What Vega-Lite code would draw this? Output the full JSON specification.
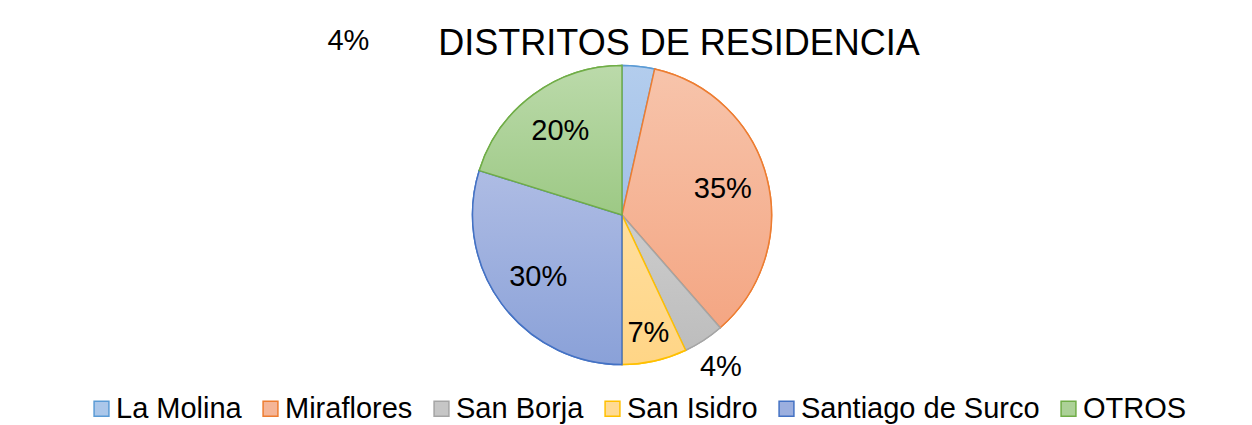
{
  "$schema": "https://vega.github.io/schema/vega-lite/v6.json",
  "width": 1244,
  "height": 300,
  "autosize": "none",
  "padding": {"left": 0, "top": 65, "right": 8, "bottom": 60},
  "background": "white",
  "title": {
    "text": "DISTRITOS DE RESIDENCIA",
    "anchor": "middle",
    "dx": 57,
    "offset": -42,
    "font": "Liberation Sans",
    "fontSize": 36,
    "fontWeight": "normal",
    "color": "#000000"
  },
  "data": {
    "values": [
      {"i": 1, "d": "La Molina", "pct": 3.5, "label": "4%"},
      {"i": 2, "d": "Miraflores", "pct": 35.1, "label": "35%"},
      {"i": 3, "d": "San Borja", "pct": 4.4, "label": "4%"},
      {"i": 4, "d": "San Isidro", "pct": 7.0, "label": "7%"},
      {"i": 5, "d": "Santiago de Surco", "pct": 29.8, "label": "30%"},
      {"i": 6, "d": "OTROS", "pct": 20.2, "label": "20%"}
    ]
  },
  "encoding": {
    "theta": {"field": "pct", "type": "quantitative", "stack": true},
    "order": {"field": "i", "type": "quantitative"}
  },
  "layer": [
    {
      "mark": {"type": "arc", "outerRadius": 149.5, "strokeWidth": 1.5},
      "encoding": {
        "fill": {
          "field": "d",
          "type": "nominal",
          "scale": {
            "domain": ["La Molina", "Miraflores", "San Borja", "San Isidro", "Santiago de Surco", "OTROS"],
            "range": ["#ABC7EA", "#F5B597", "#C6C6C6", "#FFDA93", "#9CAFDF", "#ACD197"]
          },
          "legend": {
            "orient": "none", "legendX": 87, "legendY": 329, "direction": "horizontal", "title": null,
            "symbolType": "square", "symbolSize": 220, "symbolStrokeWidth": 1.5,
            "labelFont": "Liberation Sans", "labelFontSize": 29, "labelColor": "#000000",
            "labelOffset": 0, "columnPadding": 14, "labelLimit": 0, "padding": 0
          }
        },
        "stroke": {
          "field": "d",
          "type": "nominal",
          "scale": {
            "domain": ["La Molina", "Miraflores", "San Borja", "San Isidro", "Santiago de Surco", "OTROS"],
            "range": ["#5B9BD5", "#ED7D31", "#A5A5A5", "#FFC000", "#4472C4", "#70AD47"]
          },
          "legend": {
            "orient": "none", "legendX": 87, "legendY": 329, "direction": "horizontal", "title": null,
            "symbolType": "square", "symbolSize": 220, "symbolStrokeWidth": 1.5,
            "labelFont": "Liberation Sans", "labelFontSize": 29, "labelColor": "#000000",
            "labelOffset": 0, "columnPadding": 14, "labelLimit": 0, "padding": 0
          }
        }
      }
    },
    {
      "mark": {"type": "arc", "outerRadius": 149.5, "strokeWidth": 1.5},
      "encoding": {
        "detail": {"field": "d", "type": "nominal"},
        "fill": {
          "condition": [
            {"test": "datum.d === 'La Molina'", "value": {"gradient": "linear", "x1": 0, "y1": 0, "x2": 0, "y2": 1, "stops": [{"offset": 0, "color": "#B3CDED"}, {"offset": 1, "color": "#A2C0E8"}]}},
            {"test": "datum.d === 'Miraflores'", "value": {"gradient": "linear", "x1": 0, "y1": 0, "x2": 0, "y2": 1, "stops": [{"offset": 0, "color": "#F7C4AB"}, {"offset": 1, "color": "#F4A683"}]}},
            {"test": "datum.d === 'San Borja'", "value": {"gradient": "linear", "x1": 0, "y1": 0, "x2": 0, "y2": 1, "stops": [{"offset": 0, "color": "#CDCDCD"}, {"offset": 1, "color": "#BDBDBD"}]}},
            {"test": "datum.d === 'San Isidro'", "value": {"gradient": "linear", "x1": 0, "y1": 0, "x2": 0, "y2": 1, "stops": [{"offset": 0, "color": "#FFDE9D"}, {"offset": 1, "color": "#FFD586"}]}},
            {"test": "datum.d === 'Santiago de Surco'", "value": {"gradient": "linear", "x1": 0, "y1": 0, "x2": 0, "y2": 1, "stops": [{"offset": 0, "color": "#AEBCE4"}, {"offset": 1, "color": "#8AA1D8"}]}}
          ],
          "value": {"gradient": "linear", "x1": 0, "y1": 0, "x2": 0, "y2": 1, "stops": [{"offset": 0, "color": "#BBDAAA"}, {"offset": 1, "color": "#9DC985"}]}
        },
        "stroke": {
          "condition": [
            {"test": "datum.d === 'La Molina'", "value": "#5B9BD5"},
            {"test": "datum.d === 'Miraflores'", "value": "#ED7D31"},
            {"test": "datum.d === 'San Borja'", "value": "#A5A5A5"},
            {"test": "datum.d === 'San Isidro'", "value": "#FFC000"},
            {"test": "datum.d === 'Santiago de Surco'", "value": "#4472C4"}
          ],
          "value": "#70AD47"
        }
      }
    },
    {
      "mark": {"type": "text", "radius": 104, "font": "Liberation Sans", "fontSize": 29, "color": "#000000", "baseline": "middle", "align": "center"},
      "encoding": {
        "detail": {"field": "d", "type": "nominal"},
        "text": {"condition": {"test": "indexof(['Miraflores','Santiago de Surco','OTROS'], datum.d) >= 0", "field": "label"}, "value": ""}
      }
    },
    {
      "mark": {"type": "text", "radius": 121, "font": "Liberation Sans", "fontSize": 29, "color": "#000000", "baseline": "middle", "align": "center"},
      "encoding": {
        "detail": {"field": "d", "type": "nominal"},
        "text": {"condition": {"test": "datum.d === 'San Isidro'", "field": "label"}, "value": ""}
      }
    },
    {
      "mark": {"type": "text", "radius": 181, "font": "Liberation Sans", "fontSize": 29, "color": "#000000", "baseline": "middle", "align": "center"},
      "encoding": {
        "detail": {"field": "d", "type": "nominal"},
        "text": {"condition": {"test": "datum.d === 'San Borja'", "field": "label"}, "value": ""}
      }
    },
    {
      "mark": {"type": "text", "radius": 149.5, "dx": -290, "dy": -25, "font": "Liberation Sans", "fontSize": 29, "color": "#000000", "baseline": "middle", "align": "center"},
      "encoding": {
        "detail": {"field": "d", "type": "nominal"},
        "text": {"condition": {"test": "datum.d === 'La Molina'", "field": "label"}, "value": ""}
      }
    }
  ],
  "config": {"view": {"stroke": null}}
}
